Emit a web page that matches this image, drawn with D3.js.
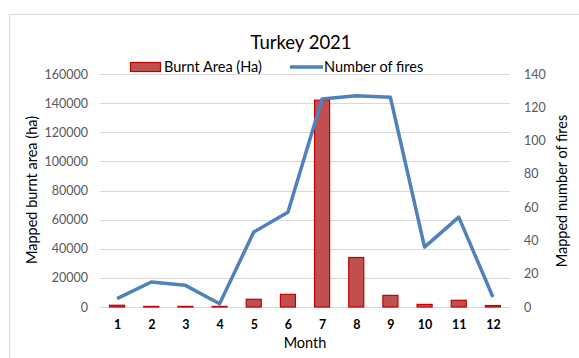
<!DOCTYPE html>
<html>
<head>
<meta charset="utf-8">
<script src="https://cdn.jsdelivr.net/npm/d3@7"></script>
<style>
  html, body { margin: 0; padding: 0; background: #fff; }
  svg { display: block; font-family: Lato, "Liberation Sans", sans-serif; }
</style>
</head>
<body>
<svg id="chart" width="579" height="358"></svg>
<script>
// Turkey 2021: monthly mapped burnt area and number of fires
const months = ["1", "2", "3", "4", "5", "6", "7", "8", "9", "10", "11", "12"];
const burntArea = [1200, 400, 400, 400, 5300, 8700, 142000, 34000, 8000, 1800, 4600, 1000];
const fires = [5, 15, 13, 2, 45, 57, 125, 127, 126, 36, 54, 6];
const leftTicks = [0, 20000, 40000, 60000, 80000, 100000, 120000, 140000, 160000];
const rightTicks = [0, 20, 40, 60, 80, 100, 120, 140];

const svg = d3.select("#chart");
const W = 579, H = 358;
const m = { left: 100, right: 69, top: 74, bottom: 51 };
const plotW = W - m.left - m.right;
const plotH = H - m.top - m.bottom;

// chart frame
svg.append("rect")
  .attr("x", 9.5).attr("y", 14.5)
  .attr("width", W).attr("height", H)
  .attr("fill", "#fff").attr("stroke", "#d9d9d9").attr("stroke-width", 1);

const g = svg.append("g").attr("transform", `translate(${m.left},${m.top})`);

const x = d3.scaleBand().domain(months).range([0, plotW]).paddingInner(0.56).paddingOuter(0.28);
const xc = d3.scalePoint().domain(months).range([0, plotW]).padding(0.5);
const yL = d3.scaleLinear().domain([0, 160000]).range([plotH, 0]);
const yR = d3.scaleLinear().domain([0, 140]).range([plotH, 0]);

// gridlines
g.append("g")
  .selectAll("line").data(leftTicks).join("line")
  .attr("x1", 0).attr("x2", plotW)
  .attr("y1", d => Math.round(yL(d)) + 0.5).attr("y2", d => Math.round(yL(d)) + 0.5)
  .attr("stroke", "#d9d9d9").attr("stroke-width", 1);

// left axis
const axL = g.append("g").call(d3.axisLeft(yL).tickValues(leftTicks).tickSize(0).tickPadding(12).tickFormat(d3.format("d")));
axL.select(".domain").remove();
axL.selectAll("text").attr("fill", "#595959").style("font-size", "12.5px").style("font-family", "Lato, 'Liberation Sans', sans-serif");

// right axis
const axR = g.append("g").attr("transform", `translate(${plotW},0)`)
  .call(d3.axisRight(yR).tickValues(rightTicks).tickSize(0).tickPadding(14));
axR.select(".domain").remove();
axR.selectAll("text").attr("fill", "#595959").style("font-size", "12.5px").style("font-family", "Lato, 'Liberation Sans', sans-serif");

// bottom axis
const axB = g.append("g").attr("transform", `translate(0,${plotH})`)
  .call(d3.axisBottom(xc).tickSize(0).tickPadding(13));
axB.select(".domain").remove();
axB.selectAll("text").attr("fill", "#000").style("font-size", "12.5px").style("font-weight", "bold").style("font-family", "Lato, 'Liberation Sans', sans-serif");

// bars
g.append("g").selectAll("rect").data(months).join("rect")
  .attr("x", d => x(d))
  .attr("y", (d, i) => yL(burntArea[i]))
  .attr("width", x.bandwidth())
  .attr("height", (d, i) => plotH - yL(burntArea[i]))
  .attr("fill", "#c0504d")
  .attr("stroke", "#c00000")
  .attr("stroke-width", 1.2);

// fires line
const line = d3.line().x((d, i) => xc(months[i])).y(d => yR(d));
g.append("path").datum(fires)
  .attr("d", line)
  .attr("fill", "none")
  .attr("stroke", "#4f81bd")
  .attr("stroke-width", 3.5)
  .attr("stroke-linejoin", "round");

// title
svg.append("text").attr("x", 301).attr("y", 49).attr("text-anchor", "middle")
  .style("font-size", "18.5px").attr("fill", "#000").text("Turkey 2021");

// axis titles
svg.append("text").attr("transform", "translate(37,190) rotate(-90)").attr("text-anchor", "middle")
  .style("font-size", "14.5px").attr("fill", "#000").text("Mapped burnt area (ha)");
svg.append("text").attr("transform", "translate(567,191) rotate(-90)").attr("text-anchor", "middle")
  .style("font-size", "14.5px").attr("fill", "#000").text("Mapped number of fires");
svg.append("text").attr("x", 305).attr("y", 348).attr("text-anchor", "middle")
  .style("font-size", "14.5px").attr("fill", "#000").text("Month");

// legend
const leg = svg.append("g");
leg.append("rect").attr("x", 130.5).attr("y", 62.5).attr("width", 30).attr("height", 9)
  .attr("fill", "#c0504d").attr("stroke", "#c00000").attr("stroke-width", 1.2);
leg.append("text").attr("x", 164).attr("y", 72).style("font-size", "14.5px").attr("fill", "#000").text("Burnt Area (Ha)");
leg.append("line").attr("x1", 290).attr("x2", 323).attr("y1", 67).attr("y2", 67)
  .attr("stroke", "#4f81bd").attr("stroke-width", 3.5);
leg.append("text").attr("x", 324).attr("y", 72).style("font-size", "14.5px").attr("fill", "#000").text("Number of fires");
</script>
</body>
</html>
